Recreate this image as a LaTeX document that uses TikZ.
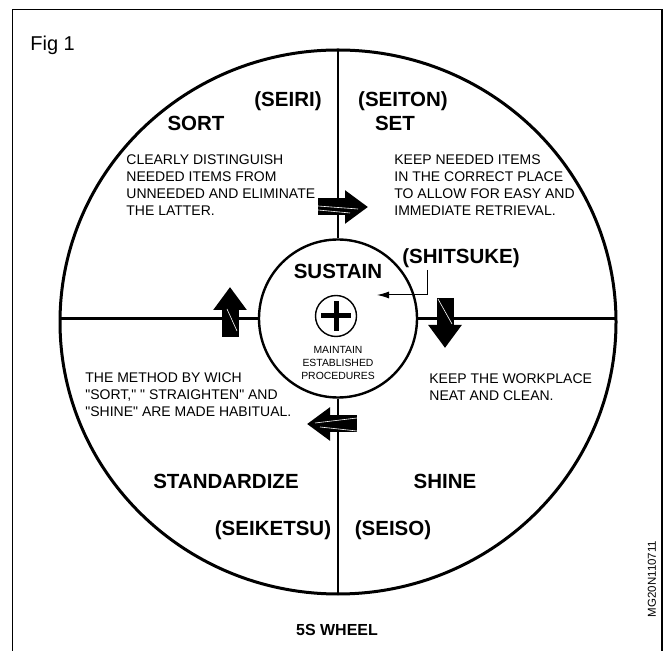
\documentclass[tikz,border=0pt]{standalone}
\usepackage{fontspec}
\setmainfont{Liberation Sans}[Ligatures=TeXOff]
\usetikzlibrary{arrows.meta}

\begin{document}
\begin{tikzpicture}[x=0.5pt,y=-0.5pt,
    hdr/.style={font=\fontsize{10.25}{12}\selectfont\bfseries,inner sep=0},
    body/.style={font=\fontsize{7}{8.5}\selectfont,align=left,inner sep=0,anchor=north west},
    spoke/.style={line width=1.2pt},
    blockarrow/.style={line width=8.5pt,-{Triangle[length=11.5pt,width=16pt]}},
    seam/.style={white,line width=0.3pt}]
    \useasboundingbox (0,0) rectangle (669,651);
    \draw[line width=0.75pt] (12.5,651) |- (662,9.5) -- (662,651);
    \node[anchor=west,font=\fontsize{10}{12}\selectfont,inner sep=0] (fig) at (30,45) {Fig 1};

    \draw[line width=1.5pt] (338,322) ellipse [x radius=278, y radius=272];
    \node[draw,circle,line width=1.2pt,minimum size=79pt,inner sep=0] (core) at (338,318.5) {};
    \coordinate (top) at (338,50);
    \coordinate (bot) at (338,594);
    \coordinate (lft) at (60,318.5);
    \coordinate (rgt) at (616,318.5);
    \draw[spoke] (core) -- (top);
    \draw[spoke] (core) -- (bot);
    \draw[spoke] (core) -- (lft);
    \draw[spoke] (core) -- (rgt);

    \node[draw,circle,line width=0.7pt,minimum size=20.5pt,inner sep=0] (plus) at (336,316) {};
    \draw[line width=2.5pt] ([xshift=-7.5pt]plus.center) -- ([xshift=7.5pt]plus.center);
    \draw[line width=2.5pt] ([yshift=-7.5pt]plus.center) -- ([yshift=7.5pt]plus.center);
    \node[font=\fontsize{5.2}{6.5}\selectfont,align=center,inner sep=0] (keep) at (338,363) {MAINTAIN\\ESTABLISHED\\PROCEDURES};
    \node[hdr] (sustain) at (338,271) {SUSTAIN};
    \node[hdr,anchor=west] (shitsuke) at (402,258) {(SHITSUKE)};
    \coordinate (sk) at (377,295);
    \draw[line width=0.5pt,-{Latex[length=6pt,width=3.5pt]}] ([xshift=12.5pt,yshift=-1pt]shitsuke.south west) |- (sk);

    \node[hdr] (seiri) at (288,101) {(SEIRI)};
    \node[hdr] (seiton) at (403,101) {(SEITON)};
    \node[hdr] (sort) at (196,123) {SORT};
    \node[hdr] (set) at (395,123) {SET};
    \node[hdr] (standardize) at (226,481) {STANDARDIZE};
    \node[hdr] (shine) at (445,481) {SHINE};
    \node[hdr] (seiketsu) at (273,530) {(SEIKETSU)};
    \node[hdr] (seiso) at (393,530) {(SEISO)};

    \node[body] (sortnote) at (126,154) {CLEARLY DISTINGUISH\\NEEDED ITEMS FROM\\UNNEEDED AND ELIMINATE\\THE LATTER.};
    \node[body] (setnote) at (394,154) {KEEP NEEDED ITEMS\\IN THE CORRECT PLACE\\TO ALLOW FOR EASY AND\\IMMEDIATE RETRIEVAL.};
    \node[body] (stdnote) at (85,372) {THE METHOD BY WICH\\"SORT," " STRAIGHTEN" AND\\"SHINE" ARE MADE HABITUAL.};
    \node[body] (shinenote) at (429,373) {KEEP THE WORKPLACE\\NEAT AND CLEAN.};

    \coordinate (ra) at (318,207);
    \coordinate (rb) at (368,207);
    \draw[blockarrow] (ra) -- (rb);
    \draw[seam] (318,206) -- (358,209) (318,210) -- (350,213);
    \coordinate (da) at (445,298);
    \coordinate (db) at (445,348);
    \draw[blockarrow] (da) -- (db);
    \draw[seam] (438,299) -- (452,324);
    \coordinate (la) at (357,424);
    \coordinate (lb) at (307,424);
    \draw[blockarrow] (la) -- (lb);
    \draw[seam] (357,418) -- (315,423) (357,431) -- (320,427);
    \coordinate (ua) at (230,337);
    \coordinate (ub) at (230,287);
    \draw[blockarrow] (ua) -- (ub);
    \draw[seam] (227,309) -- (237,331);

    \node[font=\fontsize{8}{10}\selectfont\bfseries,inner sep=0] (caption) at (337,630) {5S WHEEL};
    \node[rotate=90,font=\fontsize{5.75}{7}\selectfont,inner sep=0] (code) at (652,579) {MG20N110711};
\end{tikzpicture}
\end{document}
